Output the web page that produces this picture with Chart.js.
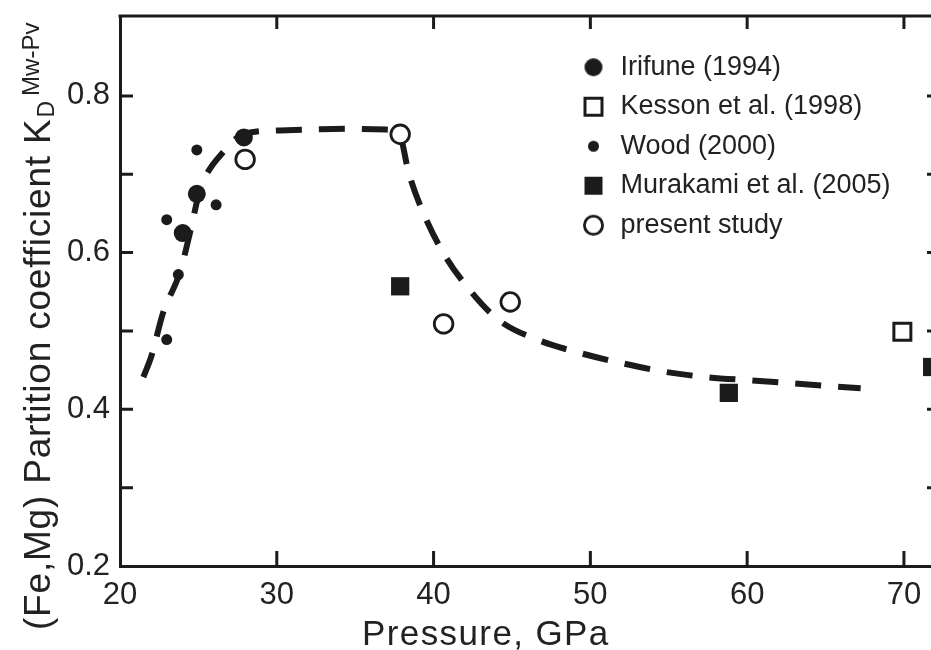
<!DOCTYPE html>
<html><head><meta charset="utf-8">
<style>html,body{margin:0;padding:0;overflow:hidden;background:#fff}canvas{display:block}</style>
<script src="https://cdn.jsdelivr.net/npm/chart.js@4.4.1/dist/chart.umd.min.js"></script>
</head><body>
<canvas id="c" width="940" height="650" style="width:940px;height:650px"></canvas>
<script>
// ---- data ----
const irifuneP = [24.0, 24.9, 27.9];
const irifuneKd = [0.625, 0.675, 0.747];
const kessonP = [69.9];
const kessonKd = [0.499];
const woodP = [22.98, 23.72, 22.98, 24.9, 26.13];
const woodKd = [0.489, 0.572, 0.642, 0.731, 0.661];
const murakamiP = [37.87, 58.83, 71.8];
const murakamiKd = [0.557, 0.421, 0.454];
const presentP = [27.98, 37.87, 40.64, 44.89];
const presentKd = [0.719, 0.751, 0.509, 0.537];
const fitP = [21.49, 22.02, 22.76, 23.83, 24.47, 25.11, 26.70, 27.98, 30.21, 31.92, 34.68, 37.0, 37.87, 38.40, 39.36, 40.64, 42.23, 44.15, 46.60, 49.32, 51.98, 54.72, 57.45, 60.22, 62.98, 65.75, 67.24];
const fitKd = [0.441, 0.469, 0.524, 0.575, 0.626, 0.680, 0.731, 0.752, 0.756, 0.757, 0.758, 0.757, 0.748, 0.703, 0.650, 0.599, 0.554, 0.514, 0.489, 0.472, 0.459, 0.448, 0.441, 0.437, 0.433, 0.429, 0.427];
const legendNames = ['Irifune (1994)', 'Kesson et al. (1998)', 'Wood (2000)', 'Murakami et al. (2005)', 'present study'];
const xTickLabels = [20, 30, 40, 50, 60, 70];
const yTickLabels = [0.2, 0.4, 0.6, 0.8];
const xTickMarks = [30, 40, 50, 60, 70];
const yTickMarks = [0.3, 0.4, 0.5, 0.6, 0.7, 0.8];
const xTitle = 'Pressure, GPa';
const yTitleMain = '(Fe,Mg) Partition coefficient K';
const yTitleSub = 'D';
const yTitleSup = 'Mw-Pv';

const INK = '#1b1b1b';
const TXT = '#222';
const FONT = '"Liberation Sans", Arial, Helvetica, sans-serif';

const pts = (xs, ys) => xs.map((v, i) => ({x: v, y: ys[i]}));

function marker(kind, size, filled, lw) {
  const s = Math.ceil(size + 6);
  const c = document.createElement('canvas');
  c.width = s; c.height = s;
  const g = c.getContext('2d');
  g.fillStyle = INK; g.strokeStyle = INK; g.lineWidth = lw;
  const m = s / 2;
  const h = size / 2 - (filled ? 0 : lw / 2);
  if (kind === 'circle') {
    g.beginPath(); g.arc(m, m, h, 0, Math.PI * 2);
    if (filled) g.fill(); else { g.fillStyle = '#fff'; g.fill(); g.stroke(); }
  } else {
    if (filled) g.fillRect(m - h, m - h, 2 * h, 2 * h);
    else { g.fillStyle = '#fff'; g.fillRect(m - h, m - h, 2 * h, 2 * h); g.strokeRect(m - h, m - h, 2 * h, 2 * h); }
  }
  return c;
}
const legendMarkers = [
  marker('circle', 18, true, 0),
  marker('rect', 20, false, 3),
  marker('circle', 11, true, 0),
  marker('rect', 18, true, 0),
  marker('circle', 21, false, 2.8)
];

const noPad = s => { s.paddingTop = 0; s.paddingBottom = 0; s.paddingLeft = 0; s.paddingRight = 0; };

const framePlugin = {
  id: 'frame',
  afterLayout(chart) {
    const L = chart.legend;
    if (!L) return;
    const w = L.width, h = L.height;
    L.left = 567.5; L.top = 41.2; L.right = L.left + w; L.bottom = L.top + h;
  },
  afterDraw(chart) {
    const {ctx, chartArea: a, scales: {x, y}} = chart;
    ctx.save();
    ctx.strokeStyle = INK; ctx.lineWidth = 3; ctx.lineCap = 'butt';
    ctx.beginPath();
    ctx.moveTo(a.left - 1.5, a.top); ctx.lineTo(a.right + 1.5, a.top);
    ctx.moveTo(a.right, a.top); ctx.lineTo(a.right, a.bottom);
    xTickMarks.forEach(v => {
      const px = x.getPixelForValue(v);
      ctx.moveTo(px, a.bottom); ctx.lineTo(px, a.bottom - 15);
      ctx.moveTo(px, a.top); ctx.lineTo(px, a.top + 13);
    });
    yTickMarks.forEach(v => {
      const py = y.getPixelForValue(v);
      ctx.moveTo(a.left, py); ctx.lineTo(a.left + 13, py);
      ctx.moveTo(a.right, py); ctx.lineTo(a.right - 13, py);
    });
    ctx.stroke();

    // x title
    ctx.fillStyle = TXT;
    ctx.textAlign = 'left'; ctx.textBaseline = 'alphabetic';
    ctx.font = '35px ' + FONT;
    ctx.letterSpacing = '1.4px';
    ctx.fillText(xTitle, 362, 645);

    // y title (rotated, with subscript and superscript)
    ctx.translate(50, 630);
    ctx.rotate(-Math.PI / 2);
    ctx.font = '37px ' + FONT;
    ctx.letterSpacing = '0.8px';
    ctx.fillText(yTitleMain, 0, 0);
    const w = ctx.measureText(yTitleMain).width;
    ctx.font = '23px ' + FONT;
    ctx.letterSpacing = '0px';
    ctx.fillText(yTitleSub, w + 1, 4);
    const wd = ctx.measureText(yTitleSub).width;
    ctx.font = '24px ' + FONT;
    ctx.fillText(yTitleSup, w + wd + 6, -11);
    ctx.restore();
  }
};

new Chart(document.getElementById('c'), {
  type: 'scatter',
  data: {
    datasets: [
      {label: legendNames[0], data: pts(irifuneP, irifuneKd), pointStyle: 'circle', pointRadius: 9, backgroundColor: INK, borderWidth: 0, order: 1},
      {label: legendNames[1], data: pts(kessonP, kessonKd), pointStyle: 'rect', pointRadius: 12, backgroundColor: '#fff', borderColor: INK, borderWidth: 3, order: 1},
      {label: legendNames[2], data: pts(woodP, woodKd), pointStyle: 'circle', pointRadius: 5.5, backgroundColor: INK, borderWidth: 0, order: 1},
      {label: legendNames[3], data: pts(murakamiP, murakamiKd), pointStyle: 'rect', pointRadius: 12.9, backgroundColor: INK, borderWidth: 0, order: 1},
      {label: legendNames[4], data: pts(presentP, presentKd), pointStyle: 'circle', pointRadius: 9.3, backgroundColor: '#fff', borderColor: INK, borderWidth: 2.8, order: 0},
      {label: 'fit', type: 'line', data: pts(fitP, fitKd), showLine: true, pointRadius: 0, borderColor: INK, borderWidth: 6, borderDash: [26, 17], borderCapStyle: 'butt', cubicInterpolationMode: 'monotone', fill: false, order: 5}
    ]
  },
  options: {
    responsive: false,
    animation: false,
    devicePixelRatio: 1,
    layout: {autoPadding: false, padding: {top: 16, right: 0, left: 0, bottom: 0}},
    plugins: {
      tooltip: {enabled: false},
      legend: {
        position: 'chartArea',
        align: 'start',
        labels: {
          usePointStyle: true,
          boxWidth: 27,
          padding: 12.5,
          color: TXT,
          font: {size: 27, family: FONT},
          generateLabels: () => legendNames.map((n, i) => ({
            text: n, pointStyle: legendMarkers[i], fillStyle: 'transparent', strokeStyle: 'transparent',
            lineWidth: 0, hidden: false, datasetIndex: i, fontColor: TXT
          }))
        }
      }
    },
    scales: {
      x: {
        type: 'linear', min: 20, max: 72.3,
        afterBuildTicks: s => { s.ticks = xTickLabels.map(v => ({value: v})); },
        afterFit: s => { s.height = 84; noPad(s); },
        grid: {display: false, drawTicks: false},
        border: {display: true, width: 3, color: INK},
        ticks: {font: {size: 31, family: FONT}, color: TXT, padding: 11, maxRotation: 0, autoSkip: false, callback: v => String(v)}
      },
      y: {
        type: 'linear', min: 0.2, max: 0.902,
        afterBuildTicks: s => { s.ticks = yTickLabels.map(v => ({value: v})); },
        afterFit: s => { s.width = 120; noPad(s); },
        grid: {display: false, drawTicks: false},
        border: {display: true, width: 3, color: INK},
        ticks: {font: {size: 31, family: FONT}, color: TXT, padding: 10, autoSkip: false, callback: v => Number(v).toFixed(1)}
      }
    }
  },
  plugins: [framePlugin]
});
</script>
</body></html>
